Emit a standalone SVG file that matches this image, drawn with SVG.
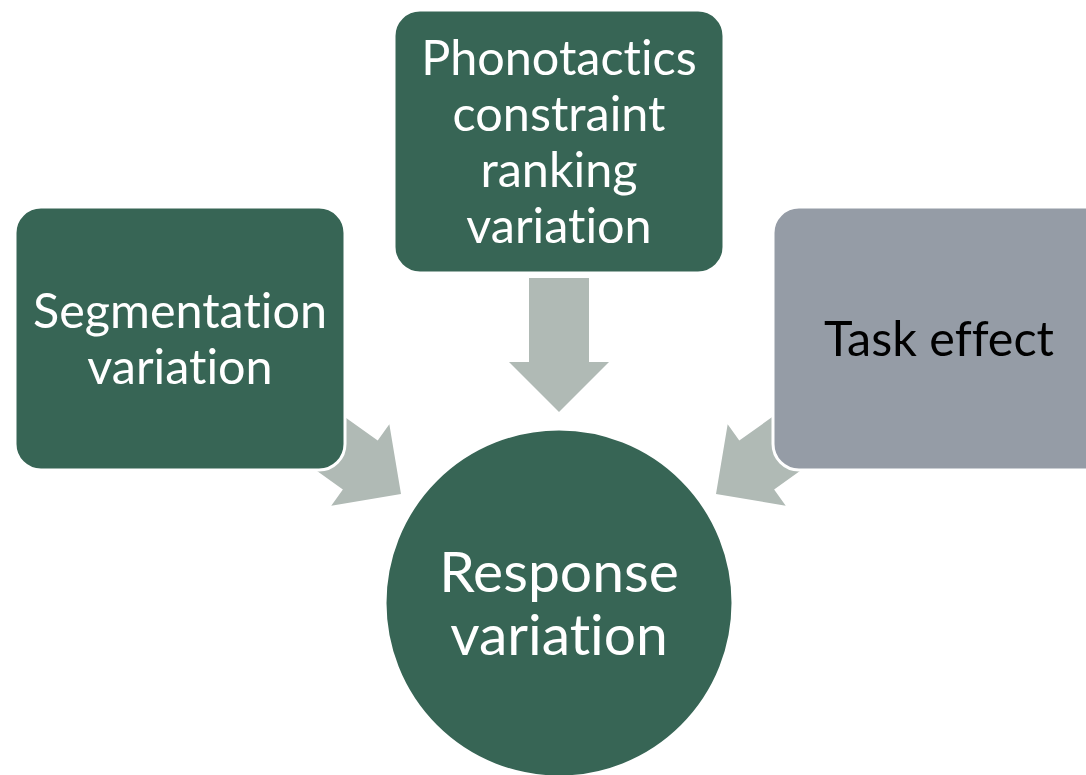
<svg xmlns="http://www.w3.org/2000/svg" width="1086" height="775" viewBox="0 0 1086 775">
  <style>
    .box { fill: #376555; stroke: #ffffff; stroke-width: 3; }
    .gray { fill: #959ca6; stroke: #ffffff; stroke-width: 3; }
    .arrow { fill: #b0bab5; }
    .lbl { font-family: "Lato", "Liberation Sans", sans-serif; font-size: 48.5px; fill: #ffffff; text-anchor: middle; font-variant-ligatures: none; font-feature-settings: "liga" 0, "clig" 0, "dlig" 0; }
    .dark { fill: #000000; }
    .big { font-size: 57px; }
  </style>
  <defs>
    <!-- block arrow, tip at origin, pointing along +y -->
    <path id="blockArrow" d="M-30,-134 L30,-134 L30,-50 L50,-50 L0,0 L-50,-50 L-30,-50 Z"/>
  </defs>

  <g id="connectors">
    <use href="#blockArrow" class="arrow" transform="translate(559,412)"/>
    <use href="#blockArrow" class="arrow" transform="translate(401,494) rotate(-54.5)"/>
    <use href="#blockArrow" class="arrow" transform="translate(716,494) rotate(54.5)"/>
  </g>

  <g id="phonotactics">
    <rect class="box" x="394" y="10" width="330" height="263" rx="26"/>
    <text class="lbl" x="559" y="75">Phonotactics</text>
    <text class="lbl" x="559" y="131">constraint</text>
    <text class="lbl" x="559" y="187">ranking</text>
    <text class="lbl" x="559" y="243">variation</text>
  </g>

  <g id="segmentation">
    <rect class="box" x="15" y="207" width="330" height="263" rx="26"/>
    <text class="lbl" x="180" y="328">Segmentation</text>
    <text class="lbl" x="180" y="384">variation</text>
  </g>

  <g id="task">
    <rect class="gray" x="773" y="207" width="340" height="263" rx="26"/>
    <text class="lbl dark" x="939" y="356">Task effect</text>
  </g>

  <g id="response">
    <circle class="box" cx="559" cy="603" r="174"/>
    <text class="lbl big" x="559" y="592">Response</text>
    <text class="lbl big" x="559" y="655">variation</text>
  </g>
</svg>
